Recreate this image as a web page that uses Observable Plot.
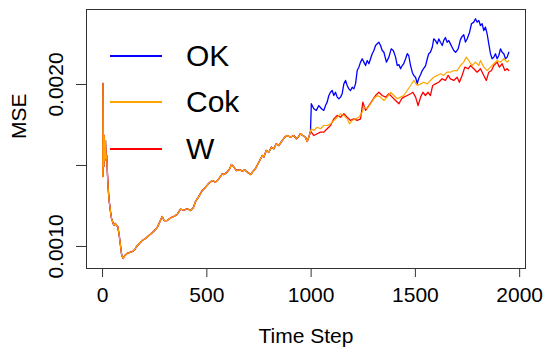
<!DOCTYPE html>
<html><head><meta charset="utf-8">
<script src="https://cdn.jsdelivr.net/npm/d3@7"></script>
<script src="https://cdn.jsdelivr.net/npm/@observablehq/plot@0.6"></script>
<style>
html,body{margin:0;padding:0;background:#fff;}
#wrap{position:relative;width:550px;height:353px;font-family:"Liberation Sans",Arial,Helvetica,sans-serif;}
#legend .row{position:absolute;left:110px;height:40px;display:flex;align-items:center;}
#legend .sw{width:52px;height:0;border-top:2px solid;margin-right:24px;}
#legend .lb{font-size:30px;line-height:40px;color:#000;}
</style></head><body>
<div id="wrap"></div>
<script>
// values are MSE in units of 1e-3
const MSE_UNIT = 1e-3;
const seriesNames = ["OK", "Cok", "W"];
const seriesColors = ["#0000ff", "#ffa500", "#ff0000"];

// shared part (all three series coincide up to t = 1000)
const baseT = [1,2,4,6,8,11,14,17,20,23,27,32,38,43,48,54,61,67,73,80,86,92,99,107,118,131,144,155,163,190,206,222,240,262,273,286,295,310,326,342,358,374,390,406,422,435,446,462,478,494,510,526,542,558,574,582,598,610,618,630,642,658,670,681,694,710,721,733,749,766,773,785,797,810,821,833,845,861,874,885,901,917,929,938,949,960,973,981,989,997];
const baseV = [1.432,2.006,1.593,1.494,1.685,1.531,1.654,1.543,1.562,1.463,1.358,1.278,1.216,1.173,1.154,1.130,1.142,1.130,1.123,1.068,1.006,0.944,0.926,0.944,0.957,0.963,0.969,0.981,1.000,1.037,1.049,1.068,1.086,1.117,1.148,1.185,1.160,1.160,1.176,1.185,1.198,1.231,1.225,1.233,1.222,1.239,1.278,1.309,1.346,1.366,1.391,1.407,1.397,1.418,1.449,1.444,1.459,1.480,1.506,1.490,1.469,1.473,1.465,1.473,1.459,1.444,1.463,1.480,1.520,1.562,1.551,1.593,1.582,1.613,1.603,1.634,1.623,1.654,1.675,1.685,1.675,1.685,1.665,1.675,1.696,1.685,1.675,1.648,1.675,1.710];

// OK (blue) after t = 1000
const okT = [1001,1013,1025,1037,1050,1061,1069,1077,1085,1093,1101,1109,1117,1125,1133,1141,1149,1157,1165,1173,1181,1189,1197,1205,1213,1221,1229,1237,1245,1253,1261,1269,1277,1285,1293,1301,1309,1317,1325,1333,1341,1349,1361,1373,1384,1394,1405,1413,1421,1429,1437,1444,1453,1461,1468,1477,1485,1492,1501,1509,1516,1525,1533,1540,1549,1557,1564,1572,1581,1588,1596,1605,1612,1620,1629,1636,1644,1652,1660,1668,1676,1684,1693,1705,1716,1724,1732,1740,1748,1760,1769,1780,1788,1796,1804,1812,1820,1828,1836,1844,1852,1860,1868,1876,1884,1892,1900,1908,1916,1924,1932,1940,1948];
const okV = [1.881,1.850,1.840,1.870,1.850,1.840,1.870,1.891,1.932,1.952,1.963,1.932,1.952,1.922,1.912,1.922,1.943,2.004,2.025,1.994,1.973,1.963,1.983,1.973,2.004,2.086,2.107,2.138,2.159,2.138,2.117,2.148,2.128,2.159,2.190,2.210,2.241,2.251,2.261,2.241,2.210,2.199,2.138,2.169,2.220,2.210,2.169,2.117,2.123,2.097,2.117,2.128,2.159,2.190,2.179,2.117,2.076,2.056,2.043,2.006,2.037,2.062,2.086,2.099,2.117,2.159,2.190,2.199,2.230,2.282,2.272,2.251,2.282,2.261,2.241,2.272,2.290,2.261,2.272,2.251,2.230,2.210,2.199,2.220,2.277,2.297,2.307,2.262,2.281,2.323,2.375,2.385,2.406,2.385,2.395,2.364,2.375,2.333,2.354,2.313,2.251,2.190,2.159,2.169,2.190,2.159,2.179,2.220,2.199,2.190,2.159,2.169,2.199];

// Cok (orange) after t = 1000
const cokT = [1001,1013,1029,1045,1061,1077,1093,1109,1125,1141,1157,1173,1184,1197,1213,1229,1245,1253,1269,1285,1301,1317,1333,1349,1365,1381,1397,1413,1429,1444,1461,1477,1492,1509,1525,1540,1557,1572,1588,1605,1620,1636,1652,1668,1684,1700,1716,1732,1744,1756,1772,1788,1804,1812,1828,1844,1860,1876,1892,1908,1924,1940,1948];
const cokV = [1.727,1.716,1.736,1.727,1.747,1.747,1.757,1.778,1.798,1.819,1.809,1.788,1.757,1.778,1.788,1.798,1.829,1.860,1.850,1.881,1.912,1.932,1.922,1.901,1.922,1.952,1.932,1.912,1.922,1.932,1.963,1.994,2.025,1.994,2.004,2.014,2.004,2.025,2.045,2.056,2.066,2.056,2.076,2.076,2.086,2.086,2.117,2.138,2.169,2.148,2.117,2.138,2.117,2.148,2.107,2.086,2.107,2.128,2.148,2.138,2.159,2.138,2.148];

// W (red) after t = 1000
const wT = [1001,1013,1029,1045,1061,1077,1093,1109,1125,1141,1157,1173,1189,1205,1221,1237,1248,1261,1277,1293,1309,1325,1341,1357,1373,1389,1405,1421,1434,1444,1461,1477,1488,1501,1513,1525,1536,1548,1561,1572,1583,1596,1612,1628,1644,1657,1668,1684,1700,1711,1724,1737,1753,1764,1780,1796,1812,1828,1840,1852,1865,1876,1892,1903,1916,1929,1940,1948];
const wV = [1.706,1.685,1.696,1.706,1.706,1.727,1.747,1.788,1.809,1.798,1.819,1.798,1.778,1.788,1.778,1.788,1.891,1.840,1.870,1.901,1.932,1.952,1.932,1.922,1.943,1.922,1.901,1.881,1.912,1.922,1.932,1.943,1.952,1.922,1.870,1.922,1.952,1.932,1.952,1.932,1.994,2.004,2.014,2.035,2.025,2.056,2.035,2.025,2.045,2.014,2.056,2.107,2.097,2.117,2.097,2.076,2.097,2.056,2.025,2.076,2.086,2.117,2.138,2.107,2.128,2.086,2.097,2.086];

const xTicks = [0, 500, 1000, 1500, 2000];
const xTickLabels = ["0", "500", "1000", "1500", "2000"];
const yTicks = [0.0010, 0.0015, 0.0020];
const yTickLabels = ["0.0010", "", "0.0020"];

function rows(name, T, V) {
  const allT = baseT.concat(T), allV = baseV.concat(V);
  const n = Math.min(allT.length, allV.length);
  const out = [];
  for (let i = 0; i < n; i++) out.push({series: name, t: allT[i], mse: allV[i] * MSE_UNIT});
  return out;
}
const okData = rows("OK", okT, okV);
const cokData = rows("Cok", cokT, cokV);
const wData = rows("W", wT, wV);

const chart = Plot.plot({
  width: 550, height: 353,
  marginLeft: 86, marginRight: 25, marginTop: 9, marginBottom: 85,
  x: {domain: [-76.96, 2027.96]},
  y: {domain: [0.000864, 0.002463]},
  style: {fontFamily: '"Liberation Sans", Arial, Helvetica, sans-serif', fontSize: "21px", color: "#000", background: "#fff"},
  marks: [
    Plot.line(okData, {x: "t", y: "mse", stroke: seriesColors[0], strokeWidth: 1.3}),
    Plot.line(wData, {x: "t", y: "mse", stroke: seriesColors[2], strokeWidth: 1.3}),
    Plot.line(cokData, {x: "t", y: "mse", stroke: seriesColors[1], strokeWidth: 1.2}),
    Plot.frame({stroke: "#333", strokeWidth: 1}),
    Plot.axisX(xTicks, {tickSize: 9, tickPadding: 10, fontSize: 21, label: null, stroke: "#333",
      tickFormat: d => xTickLabels[xTicks.indexOf(d)]}),
    Plot.axisY(yTicks, {tickSize: 10, tickPadding: 14, tickRotate: -90, fontSize: 21, label: null, stroke: "#333",
      tickFormat: d => yTickLabels[yTicks.indexOf(d)]}),
    Plot.text(["Time Step"], {frameAnchor: "bottom", lineAnchor: "bottom", dy: 74, fontSize: 21, fill: "#000"}),
    Plot.text(["MSE"], {frameAnchor: "left", lineAnchor: "bottom", rotate: -90, dx: -61, fontSize: 21, fill: "#000"})
  ]
});
const wrap = document.getElementById("wrap");
wrap.appendChild(chart);

// legend (inside the plot area, as in the original)
const legend = document.createElement("div");
legend.id = "legend";
const legendTops = [35.7, 82.3, 129];
seriesNames.forEach((name, i) => {
  const row = document.createElement("div");
  row.className = "row";
  row.style.top = legendTops[i] + "px";
  const sw = document.createElement("span");
  sw.className = "sw";
  sw.style.borderTopColor = seriesColors[i];
  const lb = document.createElement("span");
  lb.className = "lb";
  lb.textContent = name;
  row.appendChild(sw); row.appendChild(lb);
  legend.appendChild(row);
});
wrap.appendChild(legend);
</script>
</body></html>
